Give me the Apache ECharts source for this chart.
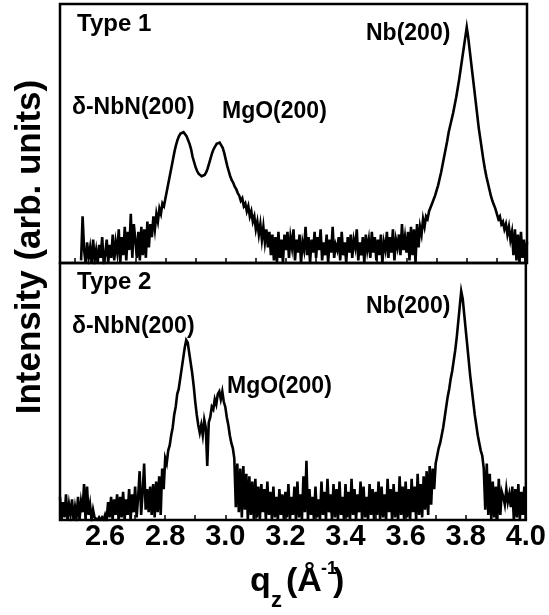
<!DOCTYPE html>
<html>
<head>
<meta charset="utf-8">
<script src="https://cdn.jsdelivr.net/npm/echarts@6/dist/echarts.min.js"></script>
<style>
  html, body { margin: 0; padding: 0; background: #fff; }
  #chart { width: 549px; height: 615px; }
</style>
</head>
<body>
<div id="chart"></div>
<script>
// Scan grid: momentum transfer q_z in 1/Å, sampled every 0.005
const qStep = 0.005;
const type1Start = 2.52;
const type2Start = 2.45;

// Type 1 film, intensity in arbitrary units (q = 2.520 ... 4.000)
const type1Intensity = [
  1, 18, 5, 0, 8, 2, 6, 0, 9, 1, 5, 0, 7, 2, 10, 0,
  3, 9, 0, 7, 2, 11, 1, 8, 4, 13, 0, 10, 3, 14, 1, 12, 5, 19, 2, 15,
  9, 2, 12, 1, 14, 3, 13, 2, 16, 6, 15, 10, 18, 13, 19, 16, 21, 19, 23, 22,
  25, 28, 31, 34, 37, 40, 43, 45.5, 47.5, 49, 50, 50.5, 50.5, 50, 49, 47.5, 46, 44, 41, 39,
  37, 35.5, 34.5, 34, 33.5, 33.5, 34, 35, 36.5, 38.5, 40.5, 42.5, 44, 45, 46, 46.5, 46.5, 46, 44.5, 42.5,
  40, 37.5, 35.5, 33.5, 32, 31, 29.5, 28.5, 27, 26, 24, 25, 22, 23, 20, 22, 18, 20, 16, 18,
  13, 16, 11, 15, 9, 14, 8, 13, 6, 12, 3, 11, 1, 10, 0, 12, 2, 9, 0, 11,
  5, 12, 2, 10, 6, 13, 1, 9, 4, 11, 0, 8, 5, 14, 3, 10, 0, 9, 4, 12,
  2, 10, 5, 13, 1, 8, 3, 11, 0, 9, 4, 14, 2, 7, 5, 10, 1, 12, 3, 8,
  0, 10, 4, 11, 2, 9, 6, 13, 1, 8, 3, 10, 0, 11, 5, 9, 2, 12, 4, 10,
  1, 9, 3, 11, 0, 8, 5, 12, 2, 10, 4, 13, 1, 9, 6, 11, 3, 15, 5, 10,
  4, 12, 1, 14, 3, 13, 0, 15, 6, 14, 11, 17, 14, 18, 17, 20, 20.5, 23, 24.5, 26,
  28, 30, 32.5, 35, 38, 41, 44, 47, 50.5, 53, 55.5, 58, 61, 64, 67.5, 71, 75, 79, 83, 87,
  91, 87, 82, 77, 72, 67, 62, 57, 52, 48, 44, 40, 36.5, 33.5, 31, 28.5, 26, 24, 22.5, 21,
  19, 17, 18, 15, 16, 13, 15, 11, 14, 9, 12, 3, 13, 1, 11, 0, 12, 2, 9, 0,
  8
];

// Type 2 film, intensity in arbitrary units (q = 2.450 ... 4.000)
const type2Intensity = [
  9, 0, 7, 1, 10, 0, 6, 2, 8, 0, 5, 1, 9, 0, 7, 3, 14, 0, 13, 2,
  6, 0, 4, 1, 1, 0, 1, 0, 1, 0, 2, 0, 7, 1, 9, 0, 8, 2, 10, 0,
  9, 1, 11, 0, 8, 2, 12, 0, 10, 3, 13, 1, 9, 19, 2, 11, 22, 4, 12, 3,
  13, 2, 14, 1, 15, 3, 17, 2, 20, 12, 24, 22, 27, 29, 33, 36, 41, 44, 49, 51,
  55, 59, 63, 67, 70, 69, 65, 61, 57, 52, 46, 41, 37, 34, 37, 33, 39, 36, 21, 38,
  40, 44, 43, 47, 45, 49, 50, 47, 50, 46, 44, 40, 37, 33, 30, 28, 24, 5, 22, 3,
  20, 1, 21, 4, 18, 0, 17, 2, 15, 0, 16, 1, 13, 0, 14, 3, 12, 0, 15, 2,
  11, 0, 13, 1, 9, 0, 12, 2, 10, 0, 11, 1, 14, 0, 9, 2, 13, 0, 15, 1,
  10, 0, 17, 3, 23, 0, 12, 2, 9, 0, 13, 1, 8, 0, 15, 2, 11, 0, 16, 3,
  10, 0, 14, 1, 12, 0, 15, 2, 9, 0, 14, 1, 11, 0, 16, 2, 12, 0, 10, 3,
  15, 0, 13, 1, 9, 0, 14, 2, 12, 0, 11, 2, 15, 0, 13, 1, 10, 0, 16, 3,
  12, 0, 14, 1, 11, 0, 17, 2, 13, 0, 15, 1, 12, 0, 16, 3, 13, 0, 18, 2,
  14, 1, 17, 4, 19, 2, 21, 6, 20, 12, 22, 25, 28, 30, 33, 36, 40, 44, 48, 51,
  55, 58, 62, 66, 71, 77, 83, 89, 86, 80, 74, 68, 62, 56, 51, 46, 41, 37, 33, 30,
  27, 25, 20, 4, 22, 2, 18, 0, 15, 1, 13, 0, 16, 2, 11, 9, 6, 12, 7, 10,
  5, 13, 0, 12, 1, 14, 0, 11, 2, 13, 0
];

// Axis ticks: minor every 0.1, labelled every 0.2
const tickValues = [2.5, 2.6, 2.7, 2.8, 2.9, 3.0, 3.1, 3.2, 3.3, 3.4, 3.5, 3.6, 3.7, 3.8, 3.9, 4.0];
const tickLabels = [2.6, 2.8, 3.0, 3.2, 3.4, 3.6, 3.8, 4.0];

const qMin = 2.45, qMax = 4.0;

function toPoints(start, values) {
  return values.map((v, i) => [+(start + i * qStep).toFixed(3), v]);
}

const FONT = '"Liberation Sans", Arial, sans-serif';

function xAxisFor(gridIndex, withLabels) {
  return {
    type: 'value', gridIndex: gridIndex, min: qMin, max: qMax,
    axisLine: { show: false },
    splitLine: { show: false },
    axisTick: {
      show: true, inside: true, length: 5, customValues: tickValues,
      lineStyle: { color: '#000', width: 1.5 }
    },
    axisLabel: {
      show: withLabels, customValues: tickLabels, margin: 2,
      color: '#000', fontFamily: FONT, fontWeight: 'bold', fontSize: 29,
      formatter: v => v.toFixed(1)
    }
  };
}

function yAxisFor(gridIndex) {
  return {
    type: 'value', gridIndex: gridIndex, min: 0, max: 100,
    axisLine: { show: false }, axisTick: { show: false },
    axisLabel: { show: false }, splitLine: { show: false }
  };
}

// Text placed by its vertical centre
function label(text, x, y, size) {
  return {
    type: 'text', x: x, y: y, z: 100,
    style: {
      text: text, fill: '#000', font: 'bold ' + (size || 23) + 'px ' + FONT,
      textAlign: 'left', textVerticalAlign: 'middle'
    }
  };
}

const chart = echarts.init(document.getElementById('chart'), null, { renderer: 'canvas' });

chart.setOption({
  animation: false,
  backgroundColor: '#fff',
  grid: [
    { left: 60, top: 4, width: 467, height: 259, show: true, borderColor: '#000', borderWidth: 2.5, backgroundColor: 'transparent' },
    { left: 60, top: 263, width: 467, height: 257, show: true, borderColor: '#000', borderWidth: 2.5, backgroundColor: 'transparent' }
  ],
  xAxis: [xAxisFor(0, false), xAxisFor(1, true)],
  yAxis: [yAxisFor(0), yAxisFor(1)],
  series: [
    {
      name: 'Type 1', type: 'line', xAxisIndex: 0, yAxisIndex: 0,
      data: toPoints(type1Start, type1Intensity),
      showSymbol: false, sampling: null,
      lineStyle: { color: '#000', width: 2.6, join: 'miter' }
    },
    {
      name: 'Type 2', type: 'line', xAxisIndex: 1, yAxisIndex: 1,
      data: toPoints(type2Start, type2Intensity),
      showSymbol: false, sampling: null,
      lineStyle: { color: '#000', width: 2.6, join: 'miter' }
    }
  ],
  graphic: [
    label('Type 1', 77, 24, 24),
    label('δ-NbN(200)', 72, 108),
    label('MgO(200)', 222, 112),
    label('Nb(200)', 366, 34),
    label('Type 2', 77, 282, 24),
    label('δ-NbN(200)', 72, 327),
    label('MgO(200)', 227, 387),
    label('Nb(200)', 366, 307),
    {
      type: 'text', x: 30, y: 247, rotation: Math.PI / 2, z: 100,
      style: {
        text: 'Intensity (arb. units)', fill: '#000', font: 'bold 35px ' + FONT,
        textAlign: 'center', textVerticalAlign: 'middle'
      }
    },
    // q_z (Å^-1) axis title, pieces placed by vertical centre
    label('q', 250, 582, 34),
    label('z', 271, 601, 22),
    label('(Å', 286, 582, 34),
    label('-1', 321, 569, 18),
    label(')', 333, 582, 34)
  ]
});
</script>
</body>
</html>
